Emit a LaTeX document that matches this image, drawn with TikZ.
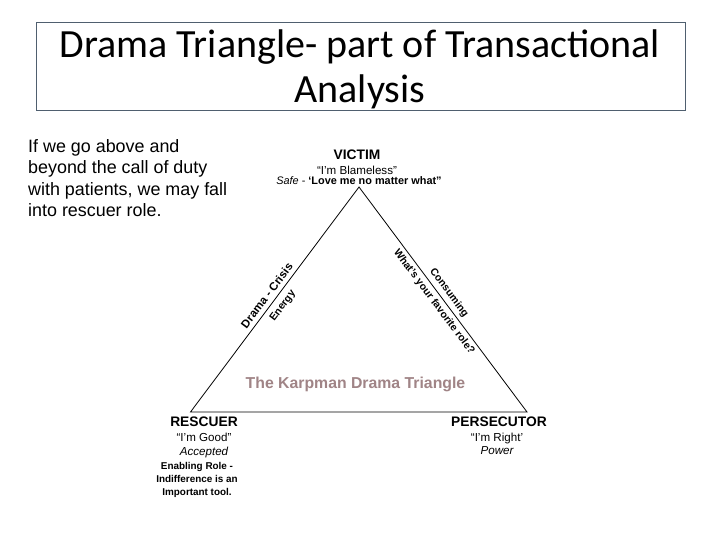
\documentclass[tikz,border=0pt]{standalone}
\usepackage{fontspec}
\setmainfont{Liberation Sans}
\newfontfamily\titlefont{Carlito}
\definecolor{boxline}{HTML}{4F5F6F}
\definecolor{karp}{HTML}{A08486}
\newcommand{\fsz}[1]{\fontsize{#1}{#1}\selectfont}
\begin{document}
\begin{tikzpicture}[x=1pt,y=-1pt,
  lbl/.style={inner sep=0pt,anchor=base},
  rolehead/.style={lbl,font=\fsz{13.8}\bfseries},
  roletxt/.style={lbl,font=\fsz{11.6}},
  roleit/.style={lbl,font=\fsz{11.6}\itshape},
  smallbold/.style={lbl,font=\fsz{9.9}\bfseries},
  sidetxt/.style={inner sep=0pt,font=\fsz{10.4}\bfseries},
  edge/.style={draw,line width=0.8pt}]
\useasboundingbox (0,0) rectangle (720,540);
\fill[white] (0,0) rectangle (720,540);
% title
\node[draw=boxline,line width=0.8pt,minimum width=649pt,minimum height=88pt,inner sep=0pt,anchor=north west] (titlebox) at (36,22) {};
\node[lbl,font=\titlefont\fsz{40}] (t1) at (360,58) {Drama Triangle- part of Transactional};
\node[lbl,font=\titlefont\fsz{40}] (t2) at (360,103) {Analysis};
% left text
\node[inner sep=0pt,anchor=north west,align=left,font=\fontsize{17.9}{21.6}\selectfont] (intro) at (28,139)
 {If we go above and\\beyond the call of duty\\with patients, we may fall\\into rescuer role.};
% triangle
\coordinate (top) at (359,187);
\coordinate (bl) at (190.5,412);
\coordinate (br) at (527,412);
\draw[edge] (top) -- (bl) -- (br) -- cycle;
% victim
\node[rolehead] (victim) at (357,160) {VICTIM};
\node[roletxt] (vic1) at (357,175) {“I’m Blameless”};
\node[lbl,font=\fsz{10.9}] (vic2) at (359,184.5) {\textit{Safe} - \textbf{‘Love me no matter what”}};
% rescuer
\node[rolehead] (rescuer) at (204,426) {RESCUER};
\node[roletxt] (res1) at (204,441) {“I’m Good”};
\node[roleit] (res2) at (204,455) {Accepted};
\node[smallbold] (res3) at (197,469) {Enabling Role -};
\node[smallbold] (res4) at (197,482) {Indifference is an};
\node[smallbold] (res5) at (197,495) {Important tool.};
% persecutor
\node[rolehead] (pers) at (499,426) {PERSECUTOR};
\node[roletxt] (pers1) at (497,441) {“I’m Right’};
\node[roleit] (pers2) at (497,454) {Power};
% karpman
\node[lbl,font=\fsz{15.8}\bfseries,text=karp] (karpman) at (355.5,388) {The Karpman Drama Triangle};
% side labels
\node[sidetxt,rotate=53.2,font=\fsz{11.5}\bfseries] (drama) at (266.8,295.4) {Drama - Crisis};
\node[sidetxt,rotate=53.2] (energy) at (283,306) {Energy};
\node[sidetxt,rotate=-53.2] (consuming) at (449,293) {Consuming};
\node[sidetxt,rotate=-53.2] (favorite) at (434,302) {What’s your favorite role?};
\end{tikzpicture}
\end{document}
